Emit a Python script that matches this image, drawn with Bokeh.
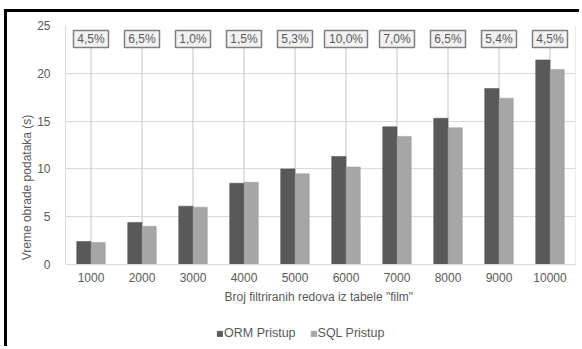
from bokeh.plotting import figure
from bokeh.models import (ColumnDataSource, FactorRange, Range1d,
                          Legend, LegendItem)
from bokeh.transform import dodge
from bokeh.core.properties import value
from bokeh.embed import file_html
from bokeh.resources import INLINE

# Number of filtered rows from table "film"
rows = ["1000", "2000", "3000", "4000", "5000", "6000", "7000", "8000", "9000", "10000"]
# Processing time in seconds
orm_time = [2.4, 4.4, 6.1, 8.5, 10.0, 11.3, 14.4, 15.3, 18.4, 21.4]
sql_time = [2.3, 4.0, 6.0, 8.6, 9.5, 10.2, 13.4, 14.3, 17.4, 20.4]
# Relative difference between the two approaches
diff_pct = ["4,5%", "6,5%", "1,0%", "1,5%", "5,3%", "10,0%", "7,0%", "6,5%", "5,4%", "4,5%"]
y_ticks = [0, 5, 10, 15, 20, 25]

FONT = "Liberation Sans"
TXT = "#595959"
LABEL_Y = 23.6      # vertical position of the percentage boxes
DROP_TOP = 22.7     # where the drop lines end under the boxes

# The frame reaches down to the bottom of the canvas so that the category
# axis, its title and the legend can sit inside it below y = 0.
W, H = 575, 337
TOP, LEFT, RIGHT = 13, 58, 7
PX_PER_UNIT = 9.56
frame_h = H - TOP
y_max = 25
y_min = y_max - frame_h / PX_PER_UNIT

src = ColumnDataSource(dict(row=rows, orm=orm_time, sql=sql_time, pct=diff_pct,
                            box_w=[8 * len(t) + 3 for t in diff_pct]))

p = figure(x_range=FactorRange(*rows), y_range=Range1d(y_min, y_max),
           width=W, height=H, output_backend="svg", toolbar_location=None,
           min_border_left=LEFT, min_border_right=RIGHT, min_border_top=TOP,
           min_border_bottom=0)

# black frame along the top and left edges of the chart
p.styles = {"border-top": "3px solid black", "border-left": "3px solid black",
            "margin-left": "4px", "margin-top": "9px"}

p.background_fill_color = "white"
p.border_fill_color = "white"
p.outline_line_color = None
p.xgrid.grid_line_color = None
p.ygrid.grid_line_color = "#d9d9d9"
p.yaxis.ticker = y_ticks
p.yaxis.bounds = (y_ticks[0], y_ticks[-1])
p.x_range.range_padding = 0
p.x_range.group_padding = 0

for ax in (p.xaxis[0], p.yaxis[0]):
    ax.major_tick_line_color = None
    ax.minor_tick_line_color = None
    ax.major_label_text_font = FONT
    ax.major_label_text_font_size = "12px"
    ax.major_label_text_color = TXT
    ax.axis_label_text_font = FONT
    ax.axis_label_text_font_size = "12px"
    ax.axis_label_text_font_style = "normal"
    ax.axis_label_text_color = TXT

p.xaxis.fixed_location = 0
p.xaxis.axis_line_color = "#d9d9d9"
p.yaxis.axis_line_color = "#d9d9d9"
p.xaxis.axis_label = 'Broj filtriranih redova iz  tabele "film"'
p.yaxis.axis_label = "Vreme obrade podataka (s)"
p.xaxis.major_label_standoff = 2
p.xaxis.axis_label_standoff = 5
p.yaxis.major_label_standoff = 9
p.yaxis.axis_label_standoff = 0

# right edge of the plot area
edge = ColumnDataSource(dict(row=[rows[-1]]))
p.segment(x0=dodge("row", 0.499, range=p.x_range), y0=y_ticks[0],
          x1=dodge("row", 0.499, range=p.x_range), y1=y_ticks[-1],
          source=edge, line_color="#d9d9d9", line_width=1)

# drop lines from the percentage boxes down to the axis
p.segment(x0="row", y0=0, x1="row", y1=DROP_TOP, source=src,
          line_color="#c4c4c4", line_width=1)

orm_r = p.vbar(x=dodge("row", -0.14, range=p.x_range), top="orm", width=0.28,
               source=src, fill_color="#595959", line_color="#4a4a4a", line_width=0.5)
sql_r = p.vbar(x=dodge("row", 0.14, range=p.x_range), top="sql", width=0.28,
               source=src, fill_color="#a6a6a6", line_color="#999999", line_width=0.5)

# boxed percentage labels
p.rect(x="row", y=LABEL_Y, width="box_w", height=17, width_units="screen",
       height_units="screen", source=src, fill_color="#f2f2f2",
       line_color="#7f7f7f", line_width=1.5)
p.text(x="row", y=LABEL_Y, text="pct", source=src, text_align="center",
       text_baseline="middle", text_font=value(FONT), text_font_size="12px",
       text_color=TXT)

legend = Legend(items=[LegendItem(label="ORM Pristup", renderers=[orm_r]),
                       LegendItem(label="SQL Pristup", renderers=[sql_r])],
                location=(151, 6), orientation="horizontal",
                border_line_color=None, background_fill_alpha=0,
                label_text_font=FONT, label_text_font_size="12.5px",
                label_text_color=TXT, glyph_width=7, glyph_height=7,
                label_height=20, label_standoff=1, spacing=14,
                padding=0, margin=0)
p.add_layout(legend)

open("out.html", "w").write(file_html(p, INLINE))
